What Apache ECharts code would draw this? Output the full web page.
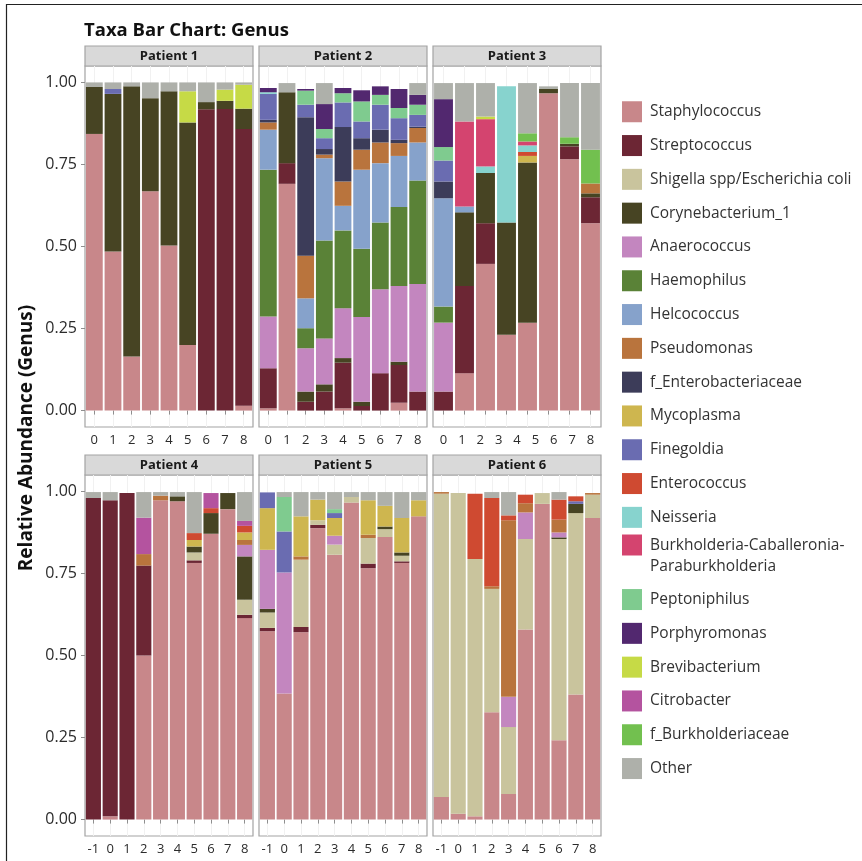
<!DOCTYPE html>
<html>
<head>
<meta charset="utf-8">
<script src="https://cdn.jsdelivr.net/npm/echarts@6/dist/echarts.min.js"></script>
<style>
  html, body { margin: 0; padding: 0; background: #ffffff; }
  #chart { width: 862px; height: 861px; }
</style>
</head>
<body>
<div id="chart"></div>
<script>
// Genus order: first entry stacks at the bottom of every bar
const GENERA = [
  'Staphylococcus', 'Streptococcus', 'Shigella spp/Escherichia coli', 'Corynebacterium_1',
  'Anaerococcus', 'Haemophilus', 'Helcococcus', 'Pseudomonas', 'f_Enterobacteriaceae',
  'Mycoplasma', 'Finegoldia', 'Enterococcus', 'Neisseria',
  'Burkholderia-Caballeronia-Paraburkholderia', 'Peptoniphilus', 'Porphyromonas',
  'Brevibacterium', 'Citrobacter', 'f_Burkholderiaceae', 'Other'
];
const GENUS_COLORS = [
  '#c8878a', '#6c2634', '#c9c49d', '#474423', '#c386bf', '#5a8237', '#86a2cb',
  '#b9743d', '#3c3c59', '#ceb64f', '#6a6cb1', '#cf4a31', '#87d3ce', '#d4446f',
  '#7fcb8f', '#52286f', '#c6da46', '#b4539f', '#72c04f', '#aeb0aa'
];

const Y_TICKS = [0, 0.25, 0.5, 0.75, 1];
const PANEL_TITLES = ['Patient 1', 'Patient 2', 'Patient 3', 'Patient 4', 'Patient 5', 'Patient 6'];

// Sampling time points per patient
const p1Samples = ['0', '1', '2', '3', '4', '5', '6', '7', '8'];
const p2Samples = ['0', '1', '2', '3', '4', '5', '6', '7', '8'];
const p3Samples = ['s1', 's2', 's3', 's4', 's5', 's6', 's7', 's8'];
const p3TickLabels = ['0', '1', '2', '3', '4', '5', '6', '7', '8'];
const p4Samples = ['-1', '0', '1', '2', '3', '4', '5', '6', '7', '8'];
const p5Samples = ['-1', '0', '1', '2', '3', '4', '5', '6', '7', '8'];
const p6Samples = ['-1', '0', '1', '2', '3', '4', '5', '6', '7', '8'];

// Relative abundance per genus, one value per sample
const p1Abundance = {
  'Staphylococcus':    [0.843, 0.485, 0.165, 0.668, 0.503, 0.200, 0, 0, 0.015],
  'Streptococcus':     [0, 0, 0, 0, 0, 0, 0.918, 0.919, 0.843],
  'Corynebacterium_1': [0.143, 0.480, 0.823, 0.284, 0.470, 0.678, 0.022, 0.025, 0.062],
  'Finegoldia':        [0, 0.015, 0, 0, 0, 0, 0, 0, 0],
  'Brevibacterium':    [0, 0, 0, 0, 0, 0.095, 0, 0.034, 0.073],
  'Other':             [0.014, 0.020, 0.012, 0.048, 0.027, 0.027, 0.060, 0.022, 0.007]
};
const p2Abundance = {
  'Staphylococcus':       [0.007, 0.691, 0, 0, 0.007, 0, 0, 0.024, 0],
  'Streptococcus':        [0.122, 0.063, 0.027, 0.058, 0.139, 0.014, 0.114, 0.115, 0.058],
  'Corynebacterium_1':    [0, 0.216, 0.031, 0.022, 0.014, 0.013, 0, 0.010, 0],
  'Anaerococcus':         [0.158, 0, 0.132, 0.140, 0.152, 0.258, 0.256, 0.231, 0.328],
  'Haemophilus':          [0.447, 0, 0.061, 0.298, 0.237, 0.208, 0.203, 0.240, 0.315],
  'Helcococcus':          [0.122, 0, 0.091, 0.251, 0.075, 0.241, 0.181, 0.156, 0.116],
  'Pseudomonas':          [0.022, 0, 0.130, 0.011, 0.074, 0.061, 0.063, 0.039, 0.044],
  'f_Enterobacteriaceae': [0.008, 0, 0.422, 0.017, 0.166, 0.035, 0.039, 0.010, 0.004],
  'Finegoldia':           [0.079, 0, 0.038, 0.033, 0.075, 0.051, 0.076, 0.066, 0.036],
  'Neisseria':            [0.005, 0, 0, 0, 0, 0, 0, 0, 0],
  'Peptoniphilus':        [0, 0, 0.043, 0.028, 0.028, 0.061, 0.030, 0.031, 0.031],
  'Porphyromonas':        [0.013, 0, 0.005, 0.076, 0.016, 0.034, 0.026, 0.058, 0.030],
  'Other':                [0, 0.028, 0, 0.064, 0, 0, 0, 0, 0.036]
};
const p3Abundance = {
  'Staphylococcus':       [0, 0.114, 0.447, 0.231, 0.268, 0.967, 0.766, 0.571],
  'Streptococcus':        [0.058, 0.266, 0.124, 0, 0, 0, 0.039, 0.079],
  'Corynebacterium_1':    [0, 0.224, 0.153, 0.342, 0.488, 0.013, 0.008, 0.012],
  'Anaerococcus':         [0.210, 0, 0, 0, 0, 0, 0, 0],
  'Haemophilus':          [0.049, 0, 0, 0, 0, 0, 0, 0],
  'Helcococcus':          [0.330, 0.018, 0, 0, 0, 0, 0, 0],
  'Pseudomonas':          [0, 0, 0, 0, 0, 0, 0, 0.030],
  'f_Enterobacteriaceae': [0.051, 0, 0, 0, 0, 0, 0, 0],
  'Mycoplasma':           [0, 0, 0, 0, 0.020, 0, 0, 0],
  'Finegoldia':           [0.064, 0, 0, 0, 0, 0, 0, 0],
  'Enterococcus':         [0, 0, 0, 0, 0.012, 0, 0, 0],
  'Neisseria':            [0, 0, 0.020, 0.415, 0.020, 0, 0, 0],
  'Burkholderia-Caballeronia-Paraburkholderia': [0, 0.259, 0.144, 0, 0.012, 0, 0, 0],
  'Peptoniphilus':        [0.041, 0, 0, 0, 0, 0, 0, 0],
  'Porphyromonas':        [0.146, 0, 0, 0, 0, 0, 0, 0],
  'Brevibacterium':       [0, 0, 0.008, 0, 0, 0, 0, 0],
  'f_Burkholderiaceae':   [0, 0, 0, 0, 0.025, 0, 0.020, 0.103],
  'Other':                [0.049, 0.117, 0.102, 0, 0.153, 0.008, 0.165, 0.203]
};
const p4Abundance = {
  'Staphylococcus':    [0, 0.010, 0, 0.500, 0.973, 0.970, 0.782, 0.871, 0.946, 0.614],
  'Streptococcus':     [0.980, 0.963, 0.995, 0.274, 0, 0, 0.008, 0, 0, 0.010],
  'Shigella spp/Escherichia coli': [0, 0, 0, 0, 0, 0, 0.024, 0, 0, 0.046],
  'Corynebacterium_1': [0, 0, 0, 0, 0, 0.015, 0.018, 0.063, 0.049, 0.132],
  'Anaerococcus':      [0, 0, 0, 0, 0, 0, 0, 0, 0, 0.035],
  'Pseudomonas':       [0, 0, 0, 0.035, 0.014, 0, 0, 0, 0, 0.015],
  'Mycoplasma':        [0, 0, 0, 0, 0, 0, 0.020, 0, 0, 0.023],
  'Enterococcus':      [0, 0, 0, 0, 0, 0, 0.021, 0.015, 0, 0.020],
  'Citrobacter':       [0, 0, 0, 0.111, 0, 0, 0, 0.046, 0, 0.015],
  'Other':             [0.018, 0.025, 0, 0.078, 0.011, 0.013, 0.125, 0, 0, 0.088]
};
const p5Abundance = {
  'Staphylococcus':    [0.574, 0.384, 0.571, 0.888, 0.807, 0.966, 0.766, 0.861, 0.782, 0.924],
  'Streptococcus':     [0.010, 0, 0.016, 0.010, 0, 0, 0.014, 0, 0.005, 0],
  'Shigella spp/Escherichia coli': [0.047, 0, 0.205, 0.014, 0.031, 0.017, 0.078, 0.024, 0.017, 0],
  'Corynebacterium_1': [0.011, 0, 0, 0, 0, 0, 0, 0.008, 0.010, 0],
  'Anaerococcus':      [0.180, 0.369, 0, 0, 0.027, 0, 0, 0, 0, 0],
  'Pseudomonas':       [0, 0, 0.010, 0, 0, 0, 0.010, 0, 0, 0],
  'Mycoplasma':        [0.127, 0, 0.122, 0.063, 0.054, 0, 0.105, 0.063, 0.105, 0.049],
  'Finegoldia':        [0.048, 0.125, 0, 0, 0.015, 0, 0, 0, 0, 0],
  'Peptoniphilus':     [0, 0.105, 0, 0, 0.012, 0, 0, 0, 0, 0],
  'Other':             [0, 0.015, 0.074, 0.023, 0.052, 0.015, 0.025, 0.042, 0.079, 0.025]
};
const p6Abundance = {
  'Staphylococcus':    [0.069, 0.018, 0.010, 0.327, 0.078, 0.579, 0.962, 0.242, 0.381, 0.919],
  'Shigella spp/Escherichia coli': [0.924, 0.977, 0.784, 0.376, 0.204, 0.276, 0.033, 0.613, 0.553, 0.071],
  'Corynebacterium_1': [0, 0, 0, 0, 0, 0, 0, 0.005, 0.028, 0],
  'Anaerococcus':      [0, 0, 0, 0, 0.092, 0.081, 0, 0.015, 0, 0],
  'Pseudomonas':       [0.005, 0, 0, 0.008, 0.538, 0.028, 0, 0.039, 0, 0.005],
  'Finegoldia':        [0, 0, 0, 0, 0, 0, 0, 0, 0.008, 0],
  'Enterococcus':      [0, 0, 0.199, 0.269, 0.015, 0.026, 0, 0.061, 0.015, 0],
  'Other':             [0, 0, 0, 0.018, 0.071, 0, 0, 0.023, 0, 0]
};

const PANELS = [
  { samples: p1Samples, ticks: p1Samples, data: p1Abundance },
  { samples: p2Samples, ticks: p2Samples, data: p2Abundance },
  { samples: p3Samples, ticks: p3TickLabels, data: p3Abundance },
  { samples: p4Samples, ticks: p4Samples, data: p4Abundance },
  { samples: p5Samples, ticks: p5Samples, data: p5Abundance },
  { samples: p6Samples, ticks: p6Samples, data: p6Abundance }
];

// Facet layout
const FONT = '"Open Sans", Lato, sans-serif';
const COL_LEFT = [85, 259, 433];
const ROW_TOP = [66, 475];
const PANEL_W = 168;
const PANEL_H = 361;
const STRIP_H = 20;
const FRAME_COLOR = '#a3a3a3';
const TICK_COLOR = '#8e8e8e';
const TEXT_COLOR = '#2b2b2b';

const grids = [], xAxes = [], yAxes = [], series = [], graphics = [];

PANELS.forEach((panel, i) => {
  const col = i % 3, row = Math.floor(i / 3);
  const left = COL_LEFT[col], top = ROW_TOP[row];
  const ownLabels = panel.samples === panel.ticks;

  grids.push({
    left: left, top: top, width: PANEL_W, height: PANEL_H,
    show: true, backgroundColor: '#ffffff',
    borderColor: FRAME_COLOR, borderWidth: 1.2
  });
  xAxes.push({
    type: 'category', gridIndex: i, data: panel.samples,
    axisLine: { show: false },
    axisTick: { show: true, alignWithLabel: true, length: 4, lineStyle: { color: TICK_COLOR } },
    axisLabel: { show: ownLabels, interval: 0, margin: 7, fontSize: 13, color: TEXT_COLOR, fontFamily: FONT },
    splitLine: { show: true, alignWithLabel: true, lineStyle: { color: '#f1f1f1', width: 1 } }
  });
  yAxes.push({
    type: 'value', gridIndex: i, min: -0.05, max: 1.05,
    axisLine: { show: false },
    splitLine: { show: false },
    axisTick: { show: col === 0, customValues: Y_TICKS, length: 4, lineStyle: { color: TICK_COLOR } },
    axisLabel: {
      show: col === 0, customValues: Y_TICKS, margin: 8,
      formatter: v => v.toFixed(2), fontSize: 16, color: TEXT_COLOR, fontFamily: FONT
    }
  });

  GENERA.forEach((genus, gi) => {
    const values = panel.data[genus];
    if (!values) return;
    series.push({
      type: 'bar', name: genus, stack: 'panel' + i,
      xAxisIndex: i, yAxisIndex: i, data: values,
      barCategoryGap: '10%',
      itemStyle: { color: GENUS_COLORS[gi] },
      emphasis: { disabled: true }
    });
  });

  // facet strip
  graphics.push({
    type: 'rect', silent: true,
    shape: { x: left, y: top - STRIP_H, width: PANEL_W, height: STRIP_H },
    style: { fill: '#d9d9d9', stroke: FRAME_COLOR, lineWidth: 1.2 }
  });
  graphics.push({
    type: 'text', silent: true,
    x: left + PANEL_W / 2, y: top - STRIP_H / 2 + 0.5,
    style: { text: PANEL_TITLES[i], font: 'bold 13px ' + FONT, fill: '#1a1a1a', align: 'center', verticalAlign: 'middle' }
  });
});

// Patient 3 shares nine time labels across its eight bars: a label-only axis spanning bar centres
(function () {
  const band = PANEL_W / p3Samples.length;
  const gi = grids.length;
  grids.push({ left: COL_LEFT[2] + band / 2, top: ROW_TOP[0], width: PANEL_W - band, height: PANEL_H, show: false });
  xAxes.push({
    type: 'category', gridIndex: gi, data: p3TickLabels, boundaryGap: false,
    axisLine: { show: false }, axisTick: { show: false }, splitLine: { show: false },
    axisLabel: { interval: 0, margin: 7, fontSize: 13, color: TEXT_COLOR, fontFamily: FONT }
  });
  yAxes.push({ type: 'value', gridIndex: gi, show: false, min: 0, max: 1 });
})();

// Outer frame and shared y-axis title
graphics.push({
  type: 'rect', silent: true, z: -1,
  shape: { x: 6.5, y: 4.5, width: 900, height: 900 },
  style: { fill: 'none', stroke: '#222222', lineWidth: 1.2 }
});
graphics.push({
  type: 'text', silent: true,
  x: 27, y: 438, rotation: Math.PI / 2,
  style: { text: 'Relative Abundance (Genus)', font: 'bold 19px ' + FONT, fill: '#111111', align: 'center', verticalAlign: 'middle' }
});

const legendBase = {
  orient: 'vertical', left: 622, padding: 0,
  itemWidth: 20, itemHeight: 21, itemGap: 12.3, icon: 'rect',
  selectedMode: false,
  textStyle: { fontSize: 15.5, color: '#333333', fontFamily: FONT, padding: [0, 0, 0, 3], lineHeight: 21.5 }
};
const WRAPPED = GENERA[13];

const option = {
  animation: false,
  backgroundColor: '#ffffff',
  title: {
    text: 'Taxa Bar Chart: Genus', left: 84, top: 21, padding: 0,
    textStyle: { fontSize: 18.5, fontWeight: 'bold', color: '#111111', fontFamily: FONT }
  },
  grid: grids,
  xAxis: xAxes,
  yAxis: yAxes,
  legend: [
    Object.assign({}, legendBase, { top: 101, data: GENERA.slice(0, 13) }),
    Object.assign({}, legendBase, {
      top: 534.5, itemHeight: 43,
      data: [{ name: WRAPPED, icon: 'path://M0,0H20V21H0ZM0,43' }],
      formatter: name => name.replace('Caballeronia-', 'Caballeronia-\n')
    }),
    Object.assign({}, legendBase, { top: 588.8, data: GENERA.slice(14) })
  ],
  graphic: graphics,
  series: series
};

const chart = echarts.init(document.getElementById('chart'), null, { renderer: 'canvas' });
chart.setOption(option);
</script>
</body>
</html>
